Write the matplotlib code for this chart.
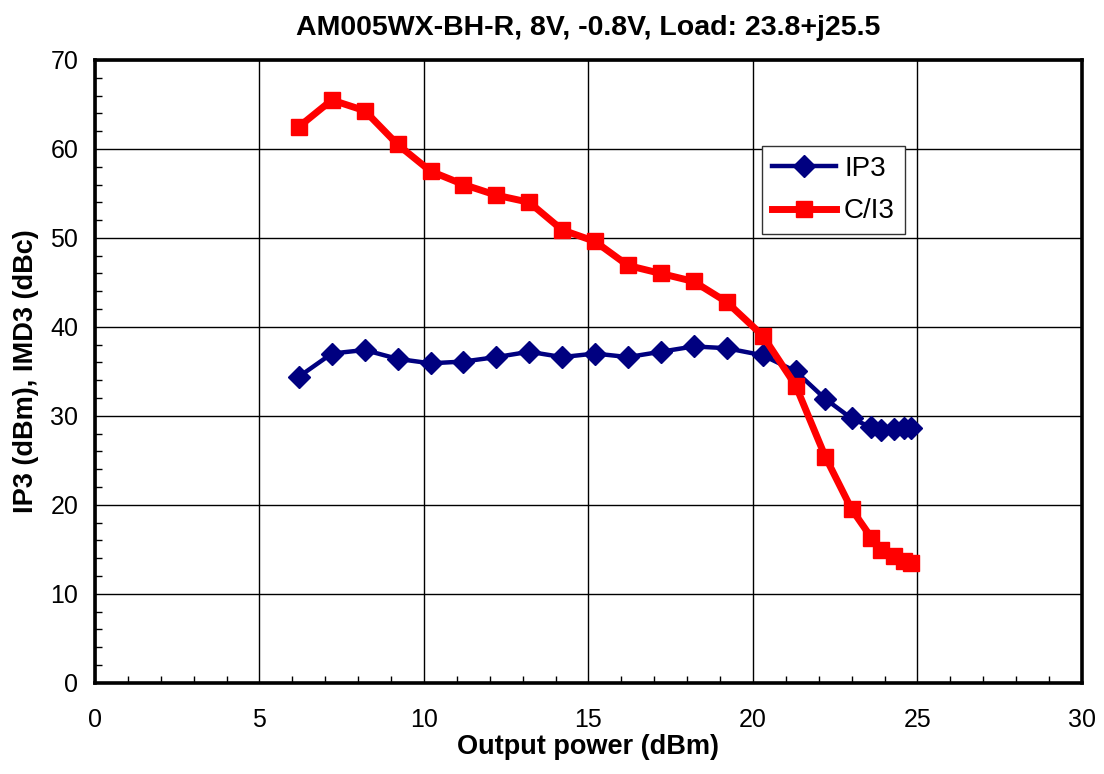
import numpy as np
import matplotlib
matplotlib.use("Agg")
import matplotlib.pyplot as plt
from matplotlib.ticker import MultipleLocator

plt.rcParams['font.family'] = ['Liberation Sans', 'DejaVu Sans']

# output power (dBm)
pout = [6.2, 7.2, 8.2, 9.2, 10.2, 11.2, 12.2, 13.2, 14.2, 15.2, 16.2, 17.2,
        18.2, 19.2, 20.3, 21.3, 22.2, 23.0, 23.6, 23.9, 24.3, 24.6, 24.8]
ip3 = [34.4, 37.0, 37.4, 36.4, 35.9, 36.1, 36.6, 37.2, 36.6, 37.0, 36.6, 37.2,
       37.8, 37.6, 36.8, 35.0, 31.9, 29.7, 28.7, 28.4, 28.5, 28.6, 28.6]
ci3 = [62.5, 65.5, 64.3, 60.5, 57.5, 56.0, 54.8, 54.0, 50.9, 49.6, 46.9, 46.0,
       45.1, 42.8, 39.0, 33.4, 25.4, 19.5, 16.3, 14.9, 14.2, 13.7, 13.5]

fig = plt.figure(figsize=(11.04, 7.74), dpi=100)
ax = fig.add_axes([0.086, 0.118, 0.894, 0.8045])

ax.plot(pout, ip3, color='#000080', lw=3.2, marker='D', ms=11.5, label='IP3')
ax.plot(pout, ci3, color='#FF0000', lw=5, marker='s', ms=11, label='C/I3')

ax.set_xlim(0, 30)
ax.set_ylim(0, 70)
ax.xaxis.set_major_locator(MultipleLocator(5))
ax.xaxis.set_minor_locator(MultipleLocator(1))
ax.yaxis.set_major_locator(MultipleLocator(10))
ax.yaxis.set_minor_locator(MultipleLocator(2))
ax.tick_params(which='both', direction='in', labelsize=18, top=False, right=False)
ax.tick_params(which='major', length=0)
ax.tick_params(axis='x', which='major', pad=18)
ax.tick_params(axis='y', which='major', pad=12)
ax.tick_params(which='minor', length=5, width=1)
ax.grid(True, which='major', color='black', lw=1)
for s in ax.spines.values():
    s.set_linewidth(2.6)

ax.set_title('AM005WX-BH-R, 8V, -0.8V, Load: 23.8+j25.5', fontsize=20.5,
             fontweight='bold', pad=18)
ax.set_xlabel('Output power (dBm)', fontsize=19.5, fontweight='bold', labelpad=2)
ax.set_ylabel('IP3 (dBm), IMD3 (dBc)', fontsize=19.5, fontweight='bold', labelpad=8)

leg = ax.legend(loc='upper left', bbox_to_anchor=(0.676, 0.862), fontsize=20,
                fancybox=False, framealpha=1, edgecolor='#333333',
                handlelength=2.3, handletextpad=0.3, borderpad=0.35,
                labelspacing=0.6, borderaxespad=0)
leg.get_frame().set_linewidth(1)

fig.savefig('out.png', dpi=100)
